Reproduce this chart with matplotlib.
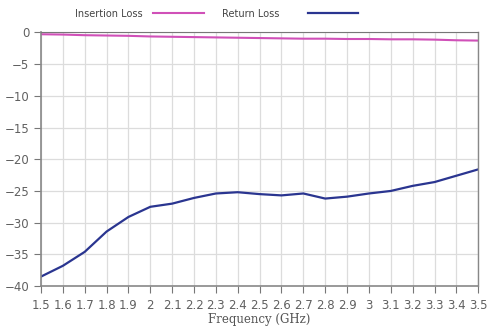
import matplotlib
matplotlib.use("Agg")
import matplotlib.pyplot as plt

freq = [1.5, 1.6, 1.7, 1.8, 1.9, 2.0, 2.1, 2.2, 2.3, 2.4, 2.5,
        2.6, 2.7, 2.8, 2.9, 3.0, 3.1, 3.2, 3.3, 3.4, 3.5]
insertion_loss = [-0.3, -0.35, -0.45, -0.5, -0.55, -0.65, -0.7, -0.75, -0.8, -0.85, -0.9,
                  -0.95, -1.0, -1.0, -1.05, -1.05, -1.1, -1.1, -1.15, -1.25, -1.3]
return_loss = [-38.5, -36.8, -34.6, -31.4, -29.1, -27.5, -27.0, -26.1, -25.4, -25.2, -25.5,
               -25.7, -25.4, -26.2, -25.9, -25.4, -25.0, -24.2, -23.6, -22.6, -21.6]
xticks = freq
xtick_labels = ["1.5", "1.6", "1.7", "1.8", "1.9", "2", "2.1", "2.2", "2.3", "2.4", "2.5",
                "2.6", "2.7", "2.8", "2.9", "3", "3.1", "3.2", "3.3", "3.4", "3.5"]
yticks = [0, -5, -10, -15, -20, -25, -30, -35, -40]

fig = plt.figure(figsize=(4.88, 3.30), dpi=100)
ax = fig.add_axes([0.084, 0.133, 0.896, 0.769])

l1, = ax.plot(freq, insertion_loss, color="#d050b8", lw=1.5, label="Insertion Loss")
l2, = ax.plot(freq, return_loss, color="#2a3590", lw=1.6, label="Return Loss")

ax.set_xlim(1.5, 3.5)
ax.set_ylim(-40, 0)
ax.set_xticks(xticks)
ax.set_xticklabels(xtick_labels)
ax.set_yticks(yticks)
ax.grid(True, color="#dcdcdc", lw=0.9)
ax.set_axisbelow(True)
ax.tick_params(colors="#777777", labelcolor="#606060", labelsize=8.5, length=5, direction="out")
ax.tick_params(axis="x", pad=4)
for side in ["left", "bottom", "right"]:
    ax.spines[side].set_color("#888888")
    ax.spines[side].set_linewidth(1.2)
ax.spines["top"].set_color("#777777")
ax.spines["right"].set_linewidth(1.0)

ax.set_xlabel("Frequency (GHz)", family="DejaVu Serif", fontsize=8.5, color="#555555", labelpad=1)

# two separate legend entries, label before line
leg_kw = dict(frameon=False, markerfirst=False, loc="center left", fontsize=7,
              handlelength=5.2, labelcolor="#444444", borderpad=0, borderaxespad=0)
leg1 = fig.legend(handles=[l1], bbox_to_anchor=(0.153, 0.958), handletextpad=1.1, **leg_kw)
leg2 = fig.legend(handles=[l2], bbox_to_anchor=(0.455, 0.958), handletextpad=2.9, **leg_kw)

fig.savefig("out.png", dpi=100)
